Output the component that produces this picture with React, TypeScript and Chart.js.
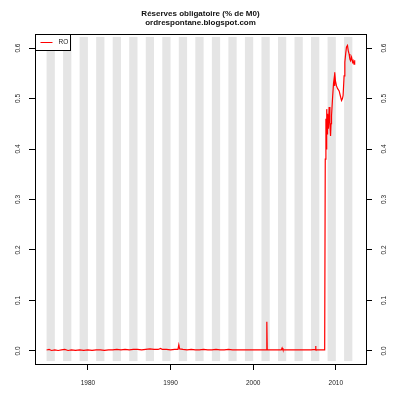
import React, { useEffect, useRef } from "react";
import { Chart, registerables } from "chart.js";

Chart.register(...registerables);

const TITLE_LINES = ["Réserves obligatoire (% de M0)", "ordrespontane.blogspot.com"];
const SERIES_LABEL = "RO";

const YEARS = [
  1975.0, 1975.3, 1975.6, 1976.0, 1976.4, 1976.8, 1977.2, 1977.6, 1978.0, 1978.5,
  1979.0, 1979.5, 1980.0, 1980.5, 1981.0, 1981.5, 1982.0, 1982.5, 1983.0, 1983.5,
  1984.0, 1984.5, 1985.0, 1985.5, 1986.0, 1986.5, 1987.0, 1987.5, 1988.0, 1988.5,
  1988.8, 1989.0, 1989.5, 1990.0, 1990.5, 1990.9, 1991.0, 1991.1, 1991.5, 1992.0,
  1992.5, 1993.0, 1993.5, 1994.0, 1994.5, 1995.0, 1995.5, 1996.0, 1996.5, 1997.0,
  1997.5, 1998.0, 1998.5, 1999.0, 1999.5, 2000.0, 2000.5, 2001.0, 2001.6, 2001.65,
  2001.7, 2002.2, 2002.8, 2003.4, 2003.5, 2003.6, 2004.2, 2005.0, 2005.8, 2006.5,
  2007.0, 2007.5, 2007.55, 2007.6, 2008.2, 2008.65, 2008.72, 2008.8, 2008.85, 2008.9,
  2008.95, 2009.0, 2009.1, 2009.19, 2009.28, 2009.36, 2009.42, 2009.48, 2009.6, 2009.72,
  2009.79, 2009.85, 2009.88, 2009.95, 2010.08, 2010.2, 2010.4, 2010.55, 2010.69, 2010.8,
  2010.88, 2011.0, 2011.09, 2011.2, 2011.29, 2011.41, 2011.5, 2011.61, 2011.7, 2011.78,
  2011.9, 2012.02, 2012.09, 2012.2, 2012.28,
];

const RO = [
  0.002, 0.003, 0.001, 0.002, 0.001, 0.002, 0.003, 0.001, 0.002, 0.001,
  0.002, 0.001, 0.002, 0.001, 0.002, 0.002, 0.001, 0.002, 0.002, 0.003,
  0.002, 0.003, 0.002, 0.003, 0.003, 0.002, 0.003, 0.004, 0.003, 0.003,
  0.005, 0.003, 0.003, 0.002, 0.003, 0.003, 0.012, 0.004, 0.003, 0.002,
  0.003, 0.002, 0.002, 0.003, 0.002, 0.002, 0.003, 0.002, 0.002, 0.003,
  0.002, 0.002, 0.002, 0.002, 0.002, 0.002, 0.002, 0.002, 0.002, 0.058,
  0.002, 0.002, 0.002, 0.002, 0.006, 0.002, 0.002, 0.002, 0.002, 0.002,
  0.002, 0.003, 0.010, 0.002, 0.002, 0.002, 0.38, 0.46, 0.40, 0.479,
  0.43, 0.47, 0.44, 0.483, 0.45, 0.426, 0.45, 0.466, 0.50, 0.53,
  0.539, 0.525, 0.552, 0.535, 0.525, 0.52, 0.515, 0.505, 0.496, 0.50,
  0.506, 0.545, 0.572, 0.59, 0.602, 0.605, 0.595, 0.588, 0.578, 0.575,
  0.582, 0.572, 0.575, 0.568, 0.576,
];

const STRIPE_STARTS = [
  1975, 1977, 1979, 1981, 1983, 1985, 1987, 1989, 1991, 1993,
  1995, 1997, 1999, 2001, 2003, 2005, 2007, 2009, 2011,
];
const STRIPE_LOW = -0.02;
const STRIPE_HIGH = 0.622;

const X_TICKS = [1980, 1990, 2000, 2010];
const Y_TICKS = [0, 0.1, 0.2, 0.3, 0.4, 0.5, 0.6];
const Y_TICK_LABELS = ["0.0", "0.1", "0.2", "0.3", "0.4", "0.5", "0.6"];

const FONT = "'Liberation Sans', Arial, sans-serif";

const decorPlugin = {
  id: "decor",
  beforeDatasetsDraw(chart: any) {
    const { ctx } = chart;
    const xs = chart.scales.x;
    const ys = chart.scales.y;
    ctx.save();
    ctx.fillStyle = "#e5e5e5";
    const yTop = ys.getPixelForValue(STRIPE_HIGH);
    const yBot = ys.getPixelForValue(STRIPE_LOW);
    for (const s of STRIPE_STARTS) {
      const x0 = xs.getPixelForValue(s);
      const x1 = xs.getPixelForValue(s + 1);
      ctx.fillRect(x0, yTop, x1 - x0, yBot - yTop);
    }
    ctx.restore();
  },
  afterDraw(chart: any) {
    const { ctx, chartArea } = chart;
    const ys = chart.scales.y;
    ctx.save();
    ctx.strokeStyle = "#000";
    ctx.lineWidth = 1;
    ctx.strokeRect(
      Math.round(chartArea.left) + 0.5,
      Math.round(chartArea.top) + 0.5,
      Math.round(chartArea.right - chartArea.left),
      Math.round(chartArea.bottom - chartArea.top)
    );
    ctx.fillStyle = "#222";
    ctx.font = `6.5px ${FONT}`;
    ctx.textAlign = "center";
    ctx.textBaseline = "middle";
    Y_TICKS.forEach((v, i) => {
      const py = ys.getPixelForValue(v);
      for (const px of [chartArea.left - 16.5, chartArea.right + 18.5]) {
        ctx.save();
        ctx.translate(px, py);
        ctx.rotate(-Math.PI / 2);
        ctx.fillText(Y_TICK_LABELS[i], 0, 0);
        ctx.restore();
      }
    });
    ctx.fillStyle = "#111";
    ctx.font = `bold 8px ${FONT}`;
    ctx.textAlign = "center";
    ctx.textBaseline = "middle";
    const cx = (chartArea.left + chartArea.right) / 2;
    ctx.fillText(TITLE_LINES[0], cx, 14);
    ctx.fillText(TITLE_LINES[1], cx, 23);
    const lx = Math.round(chartArea.left) + 0.5;
    const ly = Math.round(chartArea.top) + 0.5;
    ctx.fillStyle = "#fff";
    ctx.fillRect(lx, ly, 35, 16);
    ctx.strokeStyle = "#000";
    ctx.strokeRect(lx, ly, 35, 16);
    ctx.strokeStyle = "#ff0000";
    ctx.beginPath();
    ctx.moveTo(lx + 5, ly + 8);
    ctx.lineTo(lx + 17, ly + 8);
    ctx.stroke();
    ctx.fillStyle = "#222";
    ctx.font = `6.5px ${FONT}`;
    ctx.textAlign = "left";
    ctx.fillText(SERIES_LABEL, lx + 23, ly + 8);
    ctx.restore();
  },
};

export default function App() {
  const ref = useRef<HTMLCanvasElement>(null);
  useEffect(() => {
    document.body.style.margin = "0";
    const canvas = ref.current!;
    const chart = new Chart(canvas, {
      type: "line",
      data: {
        datasets: [
          {
            label: SERIES_LABEL,
            data: YEARS.map((x, i) => ({ x, y: RO[i] })),
            borderColor: "#ff0000",
            borderWidth: 1.2,
            pointRadius: 0,
            tension: 0,
            fill: false,
          },
        ],
      },
      options: {
        animation: false,
        responsive: false,
        maintainAspectRatio: false,
        layout: { padding: { top: 34, left: 0, right: 0, bottom: 0 } },
        plugins: {
          legend: { display: false },
          title: { display: false },
          tooltip: { enabled: false },
        },
        scales: {
          x: {
            type: "linear",
            position: "bottom",
            min: 1973.6,
            max: 2013.65,
            afterBuildTicks: (s: any) => {
              s.ticks = X_TICKS.map((v) => ({ value: v }));
            },
            afterFit: (s: any) => {
              s.height = 35;
            },
            grid: { drawOnChartArea: false, drawTicks: true, tickLength: 6, color: "#000" },
            border: { display: false },
            ticks: {
              color: "#222",
              font: { size: 6.5, family: FONT },
              padding: 9,
              maxRotation: 0,
              callback: (v: any) => String(v),
            },
          },
          y: {
            type: "linear",
            position: "left",
            min: -0.0258,
            max: 0.6278,
            afterBuildTicks: (s: any) => {
              s.ticks = Y_TICKS.map((v) => ({ value: v }));
            },
            afterFit: (s: any) => {
              s.width = 35;
            },
            grid: { drawOnChartArea: false, drawTicks: true, tickLength: 6, color: "#000" },
            border: { display: false },
            ticks: { display: false },
          },
          y2: {
            type: "linear",
            position: "right",
            min: -0.0258,
            max: 0.6278,
            afterBuildTicks: (s: any) => {
              s.ticks = Y_TICKS.map((v) => ({ value: v }));
            },
            afterFit: (s: any) => {
              s.width = 34;
            },
            grid: { drawOnChartArea: false, drawTicks: true, tickLength: 6, color: "#000" },
            border: { display: false },
            ticks: { display: false },
          },
        },
      },
      plugins: [decorPlugin],
    });
    return () => chart.destroy();
  }, []);
  return <canvas ref={ref} width={400} height={399} style={{ display: "block" }} />;
}
